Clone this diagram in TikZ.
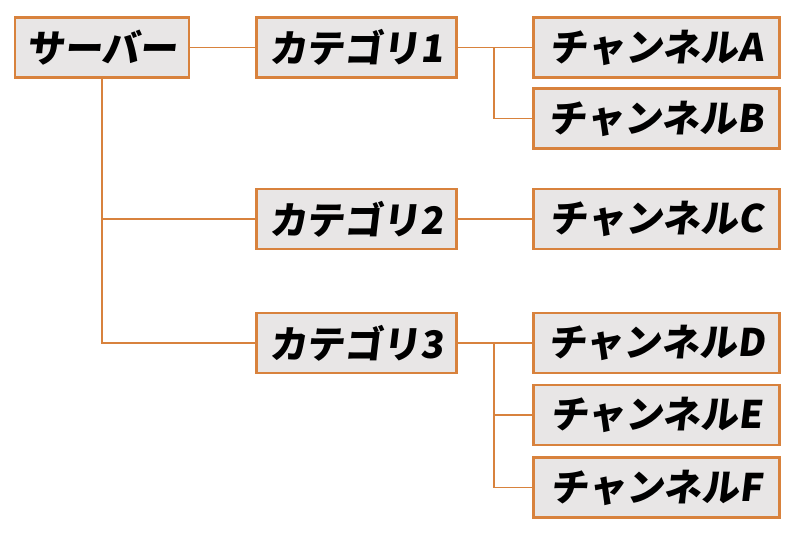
\documentclass[tikz,border=0pt]{standalone}
\usepackage{fontspec}
\newfontfamily\cjk[FakeSlant=0.12]{Noto Sans CJK JP Black}
\usetikzlibrary{positioning}
\definecolor{boxline}{HTML}{D8823D}
\definecolor{boxfill}{HTML}{E8E6E6}
\tikzset{
	every picture/.style={
		>=latex,
		x=0.025cm, y=-0.025cm
}}
\tikzset{
	item/.style={rectangle,
		draw=boxline, line width=2pt,
		fill=boxfill,
		minimum height=1.5cm,
		inner sep=0pt,
		font=\cjk\fontsize{27}{27}\selectfont},
	srv/.style={item, minimum width=4.35cm},
	cat/.style={item, minimum width=5cm},
	chn/.style={item, minimum width=6.15cm},
	link/.style={draw=boxline, line width=1.3pt}
}
\begin{document}
\begin{tikzpicture}
\useasboundingbox (0,0) rectangle (800,535);
% 左:サーバー
\node [srv] (server) at (102,47.5) {サーバー};
% 中:カテゴリ
\node [cat] (cat1) at (356.5,47.5) {カテゴリ1};
\node [cat] (cat2) at (356.5,219) {カテゴリ2};
\node [cat] (cat3) at (356.5,343) {カテゴリ3};
% 右:チャンネル
\node [chn] (chA) at (656.5,47.5) {チャンネルA};
\node [chn] (chB) at (656.5,118.5) {チャンネルB};
\node [chn] (chC) at (656.5,219) {チャンネルC};
\node [chn] (chD) at (656.5,343) {チャンネルD};
\node [chn] (chE) at (656.5,415) {チャンネルE};
\node [chn] (chF) at (656.5,487.5) {チャンネルF};
% 連結線
\coordinate (bus1) at (494,47.5);
\coordinate (bus3) at (494,343);
\draw [link] (server) -- (cat1);
\draw [link] (server.south) |- (cat2.west);
\draw [link] (server.south) |- (cat3.west);
\draw [link] (cat1) -- (chA);
\draw [link] (bus1) |- (chB.west);
\draw [link] (cat2) -- (chC);
\draw [link] (cat3) -- (chD);
\draw [link] (bus3) |- (chE.west);
\draw [link] (bus3) |- (chF.west);
\end{tikzpicture}
\end{document}
